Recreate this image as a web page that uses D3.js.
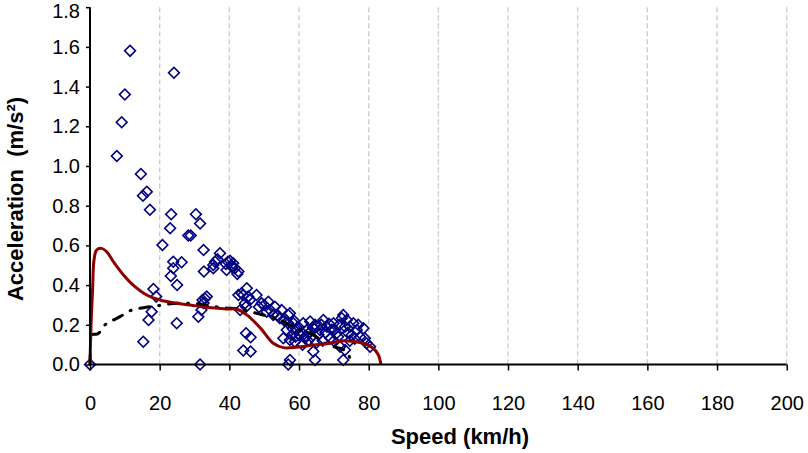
<!DOCTYPE html>
<html>
<head>
<meta charset="utf-8">
<script src="https://cdn.jsdelivr.net/npm/d3@7/dist/d3.min.js"></script>
<style>
  body { margin: 0; background: #fff; }
  text { font-family: Arial, "Liberation Sans", sans-serif; }
</style>
</head>
<body>
<div id="chart"></div>
<script>
var xTicks = [0, 20, 40, 60, 80, 100, 120, 140, 160, 180, 200];
var yTicks = [0, 0.2, 0.4, 0.6, 0.8, 1.0, 1.2, 1.4, 1.6, 1.8];

// measured points: [speed, acceleration]
var measured = [
  [0, 0], [11.5, 1.58], [24.1, 1.47], [10.0, 1.36], [9.1, 1.22], [7.7, 1.05],
  [14.6, 0.96], [16.3, 0.87], [15.2, 0.85], [17.2, 0.78], [23.3, 0.757],
  [23.0, 0.686], [30.4, 0.757], [31.6, 0.71], [20.8, 0.602], [28.2, 0.65],
  [28.9, 0.65], [32.6, 0.577], [23.9, 0.518], [26.3, 0.515], [23.9, 0.485],
  [23.2, 0.446], [25.0, 0.40], [32.7, 0.468], [35.4, 0.501], [35.9, 0.518],
  [36.6, 0.53], [37.3, 0.56], [35.4, 0.485], [39.0, 0.506], [39.6, 0.518],
  [40.2, 0.523], [40.7, 0.493], [41.1, 0.51], [41.6, 0.485], [42.6, 0.468],
  [42.3, 0.456], [39.2, 0.476], [18.2, 0.38], [19.0, 0.342], [17.7, 0.266],
  [16.8, 0.224], [15.3, 0.115], [24.9, 0.208], [31.6, 0], [31.1, 0.241],
  [32.0, 0.275], [32.6, 0.31], [33.0, 0.333], [33.5, 0.342], [32.3, 0.325],
  [43.5, 0.359], [45.0, 0.384], [45.4, 0.342], [44.8, 0.291], [43.1, 0.275],
  [44.8, 0.157], [46.1, 0.137], [44.0, 0.07], [46.1, 0.065], [42.6, 0.35],
  [44.0, 0.35], [47.8, 0.35], [45.9, 0.325], [44.5, 0.308], [51.2, 0.316],
  [49.3, 0.308], [53.1, 0.291], [55.0, 0.275], [50.7, 0.266], [52.6, 0.249],
  [54.5, 0.233], [56.9, 0.249], [56.9, 0.208], [56.5, 0.174], [55.5, 0.132],
  [57.4, 0.123], [56.9, 0], [48.5, 0.29], [50.0, 0.3], [52.0, 0.27],
  [53.8, 0.25], [55.8, 0.22], [57.4, 0.258], [58.4, 0.208], [59.3, 0.174],
  [57.9, 0.149], [58.8, 0.115], [61.2, 0.208], [62.2, 0.174], [63.2, 0.216],
  [61.7, 0.132], [63.6, 0.14], [64.6, 0.023], [64.1, 0.065], [67.0, 0.224],
  [66.0, 0.174], [68.0, 0.19], [69.0, 0.132], [69.9, 0.208], [70.8, 0.157],
  [72.3, 0.233], [73.2, 0.19], [71.8, 0.09], [72.7, 0.023], [65.1, 0.19],
  [60.3, 0.149], [57.4, 0.023], [72.7, 0.249], [73.7, 0.224], [74.6, 0.19],
  [75.6, 0.208], [76.6, 0.174], [78.5, 0.182], [79.4, 0.107], [77.5, 0.14],
  [73.2, 0.073], [75.1, 0.149], [80.4, 0.09], [78.9, 0.132], [59.8, 0.19],
  [60.8, 0.16], [62.6, 0.12], [64.0, 0.185], [65.6, 0.15], [66.8, 0.12],
  [67.6, 0.16], [68.6, 0.205], [70.2, 0.175], [71.2, 0.14], [74.0, 0.16],
  [58.2, 0.18], [59.0, 0.14], [61.0, 0.1], [63.0, 0.16], [66.4, 0.2],
  [69.4, 0.175], [71.6, 0.2], [76.0, 0.13], [77.0, 0.2], [58.6, 0.22],
  [62.0, 0.145], [65.0, 0.11], [70.0, 0.12], [74.6, 0.12], [64.6, 0.2]
];

// simulated acceleration (dark red)
var simSpeed = [0, 0.3, 0.77, 1.15, 1.9, 3.35, 4.8, 6.7, 9.6, 12.4, 16.3, 20.1, 23.9, 28.7,
  33.5, 39.2, 42.1, 45.0, 49.0, 52.6, 55.5, 59.3, 64.1, 68.9, 72.7, 78.5, 81.3, 82.8, 83.5];
var simAcc = [0, 0.2, 0.39, 0.526, 0.577, 0.585, 0.568, 0.518, 0.451, 0.40, 0.35, 0.325, 0.311, 0.30,
  0.288, 0.28, 0.278, 0.25, 0.182, 0.107, 0.085, 0.087, 0.098, 0.107, 0.12, 0.107, 0.082, 0.048, 0];

// model acceleration (black dash-dot)
var modSpeed = [0, 0.3, 2.1, 4.3, 6.7, 8.6, 11.5, 15.3, 20.1, 24.9, 29.6, 34.4, 38.3, 43.1,
  47.8, 54.5, 59.3, 64.1, 67.9, 73.7, 75.1];
var modAcc = [0, 0.15, 0.154, 0.199, 0.224, 0.241, 0.271, 0.286, 0.298, 0.308, 0.308, 0.295,
  0.286, 0.278, 0.258, 0.224, 0.182, 0.149, 0.103, 0.065, 0];

var width = 808, height = 453;
var plotLeft = 90, plotRight = 786.7, plotTop = 7.2, plotBottom = 364.5;

var svg = d3.select('#chart')
  .append('svg')
  .attr('width', width)
  .attr('height', height);

var x = d3.scaleLinear().domain([0, 200]).range([plotLeft, plotRight]);
var y = d3.scaleLinear().domain([0, 1.8]).range([plotBottom, plotTop]);

// vertical dashed gridlines
svg.append('g')
  .selectAll('line')
  .data(xTicks.slice(1))
  .enter()
  .append('line')
  .attr('x1', function (d) { return x(d); })
  .attr('x2', function (d) { return x(d); })
  .attr('y1', plotTop)
  .attr('y2', plotBottom)
  .attr('stroke', '#cccccc')
  .attr('stroke-width', 1.3)
  .attr('stroke-dasharray', '5,3');

// diamonds
var diamond = d3.symbol().type(d3.symbolSquare).size(58);
svg.append('g')
  .selectAll('path')
  .data(measured)
  .enter()
  .append('path')
  .attr('d', diamond)
  .attr('transform', function (d) {
    return 'translate(' + x(d[0]) + ',' + y(d[1]) + ') rotate(45)';
  })
  .attr('fill', 'none')
  .attr('stroke', '#000080')
  .attr('stroke-width', 1.6);

var modData = modSpeed.map(function (s, i) { return [s, modAcc[i]]; });
var simData = simSpeed.map(function (s, i) { return [s, simAcc[i]]; });

svg.append('path')
  .datum(modData)
  .attr('d', d3.line()
    .x(function (d) { return x(d[0]); })
    .y(function (d) { return y(d[1]); })
    .curve(d3.curveMonotoneX))
  .attr('fill', 'none')
  .attr('stroke', '#000')
  .attr('stroke-width', 3)
  .attr('stroke-linecap', 'round')
  .attr('stroke-dasharray', '10,9,1,9');

svg.append('path')
  .datum(simData)
  .attr('d', d3.line()
    .x(function (d) { return x(d[0]); })
    .y(function (d) { return y(d[1]); })
    .curve(d3.curveCatmullRom))
  .attr('fill', 'none')
  .attr('stroke', '#8b0000')
  .attr('stroke-width', 3);

// axes
var xAxis = d3.axisBottom(x).tickValues(xTicks).tickSize(6).tickPadding(25)
  .tickFormat(d3.format('d'));
var yAxis = d3.axisLeft(y).tickValues(yTicks).tickSize(4).tickPadding(6)
  .tickFormat(d3.format('.1f'));

var gx = svg.append('g')
  .attr('transform', 'translate(0,' + plotBottom + ')')
  .call(xAxis);
var gy = svg.append('g')
  .attr('transform', 'translate(' + plotLeft + ',0)')
  .call(yAxis);

[gx, gy].forEach(function (g) {
  g.attr('font-size', null).attr('font-family', null);
  g.select('.domain').attr('stroke', '#000').attr('stroke-width', 2);
  g.selectAll('.tick line').attr('stroke', '#000').attr('stroke-width', 1.5);
  g.selectAll('.tick text')
    .attr('fill', '#000')
    .style('font-size', '20px');
});
gx.select('.domain').attr('d', 'M' + plotLeft + ',0H' + plotRight);
gy.select('.domain').attr('d', 'M0,' + plotBottom + 'V' + plotTop);
// top label sits a little lower so it stays inside the picture
gy.selectAll('.tick text')
  .filter(function (d) { return d === 1.8; })
  .attr('dy', '0.32em')
  .attr('y', 4);

svg.append('text')
  .attr('x', 460)
  .attr('y', 444)
  .attr('text-anchor', 'middle')
  .style('font-size', '22px')
  .style('font-weight', 'bold')
  .text('Speed (km/h)');

svg.append('text')
  .attr('transform', 'translate(23,199) rotate(-90)')
  .attr('text-anchor', 'middle')
  .style('font-size', '22px')
  .style('font-weight', 'bold')
  .text('Acceleration\u00a0\u00a0(m/s\u00b2)');
</script>
</body>
</html>
